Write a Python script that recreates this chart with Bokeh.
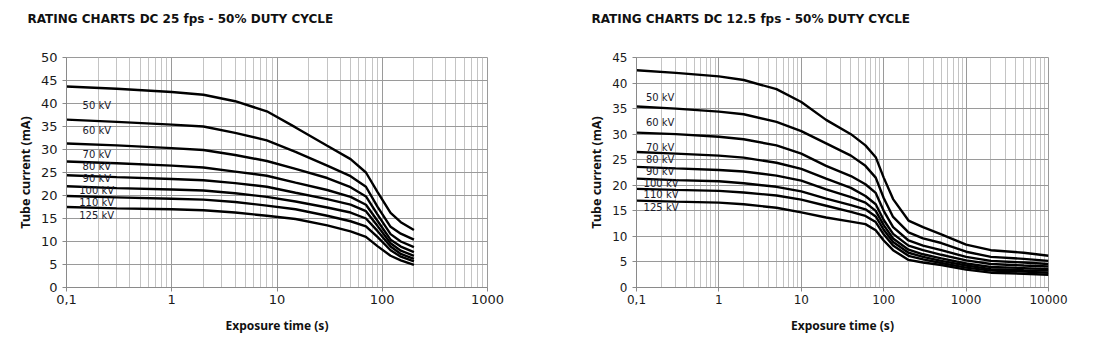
from bokeh.plotting import figure
from bokeh.models import FixedTicker, CustomJSTickFormatter, Range1d, Title
from bokeh.layouts import row
from bokeh.embed import file_html
from bokeh.resources import INLINE
from bokeh.core.properties import value

# ---------------- data ----------------
kv_names = ["50 kV", "60 kV", "70 kV", "80 kV", "90 kV", "100 kV", "110 kV", "125 kV"]

# Chart 1: DC 25 fps
t25 = [0.1, 0.3, 1, 2, 4, 8, 15, 30, 50, 70, 90, 120, 150, 200]
i25 = {
    "50 kV":  [43.7, 43.2, 42.5, 41.9, 40.5, 38.3, 34.8, 30.8, 27.9, 25.0, 20.8, 16.2, 14.2, 12.5],
    "60 kV":  [36.5, 36.0, 35.4, 35.0, 33.6, 32.0, 29.5, 26.5, 24.2, 21.9, 17.6, 13.2, 11.7, 10.4],
    "70 kV":  [31.3, 30.9, 30.3, 29.9, 28.8, 27.5, 25.8, 23.8, 21.8, 19.8, 15.9, 11.6, 10.0, 8.8],
    "80 kV":  [27.4, 27.0, 26.5, 26.1, 25.2, 24.3, 22.8, 21.2, 19.7, 18.0, 14.5, 10.4, 8.9, 7.7],
    "90 kV":  [24.4, 24.0, 23.6, 23.3, 22.7, 21.9, 20.6, 19.2, 18.0, 16.6, 13.4, 9.6, 8.0, 6.9],
    "100 kV": [22.0, 21.6, 21.3, 21.1, 20.5, 19.7, 18.7, 17.4, 16.3, 15.0, 12.3, 8.9, 7.3, 6.2],
    "110 kV": [19.9, 19.6, 19.3, 19.1, 18.6, 17.8, 17.0, 15.6, 14.4, 13.3, 11.0, 8.1, 6.7, 5.7],
    "125 kV": [17.5, 17.2, 17.0, 16.8, 16.3, 15.6, 14.9, 13.5, 12.2, 11.0, 9.0, 6.9, 5.9, 4.9],
}
label_t25 = [0.142, 0.142, 0.142, 0.142, 0.142, 0.132, 0.132, 0.132]
label_i25 = [39.5, 34.2, 29.0, 26.3, 23.6, 21.0, 18.4, 15.7]

# Chart 2: DC 12.5 fps
t12 = [0.1, 0.3, 1, 2, 5, 10, 20, 40, 60, 80, 100, 130, 200, 300, 500, 1000, 2000, 5000, 10000]
i12 = {
    "50 kV":  [42.5, 42.0, 41.3, 40.6, 38.8, 36.3, 32.8, 30.0, 27.8, 25.5, 21.5, 17.3, 13.1, 11.8, 10.4, 8.4, 7.3, 6.8, 6.2],
    "60 kV":  [35.4, 35.0, 34.4, 33.9, 32.4, 30.6, 28.2, 25.8, 23.8, 21.5, 17.5, 13.8, 10.8, 9.6, 8.7, 7.0, 6.0, 5.6, 5.2],
    "70 kV":  [30.3, 30.0, 29.5, 29.0, 27.8, 26.2, 23.8, 21.8, 20.2, 18.5, 15.0, 11.8, 9.2, 8.2, 7.3, 6.0, 5.2, 4.9, 4.6],
    "80 kV":  [26.5, 26.2, 25.8, 25.4, 24.4, 23.2, 21.3, 19.5, 17.9, 16.3, 13.2, 10.5, 8.2, 7.3, 6.4, 5.3, 4.6, 4.3, 4.1],
    "90 kV":  [23.6, 23.3, 23.0, 22.7, 21.9, 20.9, 19.2, 17.7, 16.6, 15.0, 12.2, 9.6, 7.4, 6.5, 5.7, 4.7, 4.0, 3.8, 3.6],
    "100 kV": [21.3, 21.0, 20.8, 20.4, 19.7, 18.8, 17.4, 16.1, 15.3, 13.9, 11.3, 8.9, 6.8, 6.0, 5.2, 4.3, 3.6, 3.4, 3.3],
    "110 kV": [19.3, 19.1, 18.9, 18.6, 18.0, 17.2, 16.0, 14.8, 14.0, 12.8, 10.4, 8.2, 6.2, 5.5, 4.8, 3.9, 3.3, 3.1, 2.9],
    "125 kV": [17.0, 16.8, 16.6, 16.3, 15.6, 14.7, 13.7, 12.9, 12.4, 11.2, 9.2, 7.3, 5.4, 4.9, 4.4, 3.5, 2.9, 2.7, 2.5],
}
label_t12 = [0.13, 0.13, 0.13, 0.13, 0.13, 0.122, 0.122, 0.122]
label_i12 = [37.2, 32.3, 27.4, 25.0, 22.7, 20.4, 18.1, 15.7]

x_major_25 = [0.1, 1, 10, 100, 1000]
x_major_12 = [0.1, 1, 10, 100, 1000, 10000]

TICK_FONT = "DejaVu Sans"
LABEL_FONT = "Noto Sans"


def minor_ticks(majors):
    out = []
    for m in majors[:-1]:
        out += [m * k for k in range(2, 10)]
    return out


def make_chart(title, t, curves, lt, li, xmaj, ymax, border_left, border_right, frame_w, tick_size, title_offset):
    p = figure(
        x_axis_type="log",
        x_range=Range1d(xmaj[0], xmaj[-1]),
        y_range=Range1d(0, ymax),
        frame_width=frame_w, frame_height=230,
        min_border_left=border_left, min_border_right=border_right,
        min_border_top=57, min_border_bottom=54,
        output_backend="svg", toolbar_location=None,
        title=None,
    )
    p.background_fill_color = "white"
    p.border_fill_color = "white"
    p.outline_line_color = "#9a9a9a"

    # spacer (closest to the frame), then the real title above it
    p.add_layout(Title(text=" ", text_font_size="27px", standoff=0), "above")
    p.add_layout(Title(text=title, text_font=TICK_FONT, text_font_size="12px",
                       text_font_style="bold", text_color="#111111", align="left",
                       offset=title_offset, standoff=0), "above")

    p.xaxis.ticker = FixedTicker(ticks=xmaj, minor_ticks=minor_ticks(xmaj))
    p.xaxis.formatter = CustomJSTickFormatter(code="return String(tick).replace('.', ',');")
    p.yaxis.ticker = FixedTicker(ticks=list(range(0, ymax + 1, 5)))

    for ax in (p.xaxis[0], p.yaxis[0]):
        ax.axis_line_color = "#8a8a8a"
        ax.major_tick_line_color = "#8a8a8a"
        ax.major_tick_out = 4
        ax.major_tick_in = 0
        ax.minor_tick_out = 0
        ax.minor_tick_in = 0
        ax.major_label_text_font = TICK_FONT
        ax.major_label_text_font_size = tick_size
        ax.major_label_text_color = "#1a1a1a"
        ax.axis_label_text_font = LABEL_FONT
        ax.axis_label_text_font_style = "bold"
        ax.axis_label_text_color = "#111111"

    p.xaxis.axis_label = "Exposure time (s)"
    p.xaxis.axis_label_text_font_size = "12px"
    p.xaxis.major_label_standoff = 3
    p.xaxis.axis_label_standoff = 10
    p.yaxis.axis_label = "Tube current (mA)"
    p.yaxis.axis_label_text_font_size = "12.5px"
    p.yaxis.major_label_standoff = 5
    p.yaxis.axis_label_standoff = 4

    p.xgrid.grid_line_color = "#9a9a9a"
    p.xgrid.minor_grid_line_color = "#c4c4c4"
    p.ygrid.grid_line_color = "#9a9a9a"

    for name in kv_names:
        p.line(t, curves[name], line_color="black", line_width=2.4)

    p.text(x=lt, y=li, text=kv_names, text_font=value(TICK_FONT), text_font_size="10px",
           text_color="#1a1a2a", text_baseline="middle", text_align="left")
    return p


p1 = make_chart("RATING CHARTS DC 25 fps - 50% DUTY CYCLE", t25, i25, label_t25, label_i25,
                x_major_25, 50, 66, 68, 421, "13px", -39)
p2 = make_chart("RATING CHARTS DC 12.5 fps - 50% DUTY CYCLE", t12, i12, label_t12, label_i12,
                x_major_12, 45, 81, 38, 412, "12px", -45)

layout = row(p1, p2)
open("out.html", "w").write(file_html(layout, INLINE))
